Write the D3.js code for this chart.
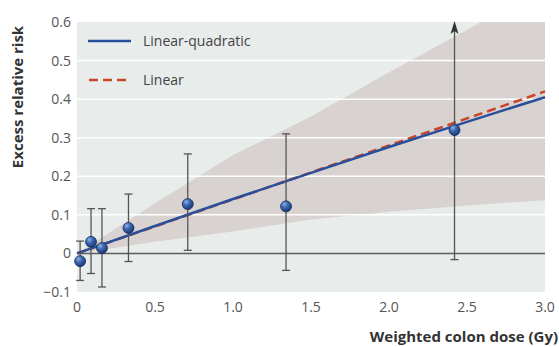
<!DOCTYPE html>
<html>
<head>
<meta charset="utf-8">
<script src="https://cdnjs.cloudflare.com/ajax/libs/d3/7.8.5/d3.min.js"></script>
<style>
body { margin: 0; background: #fff; }
svg { display: block; font-family: "Open Sans", "Noto Sans", sans-serif; }
</style>
</head>
<body>
<svg id="chart" width="559" height="347"></svg>
<script>
// observed points: dose, ERR, lower CI, upper CI
var doses = [0.02, 0.09, 0.16, 0.33, 0.71, 1.34, 2.42];
var err = [-0.02, 0.03, 0.014, 0.066, 0.128, 0.122, 0.32];
var errLow = [-0.07, -0.052, -0.087, -0.021, 0.008, -0.044, -0.016];
var errHigh = [0.032, 0.116, 0.116, 0.154, 0.258, 0.31, 0.6];
var openTop = [false, false, false, false, false, false, true];

// fitted curves
var lqDose = [0, 0.5, 1, 1.5, 2, 2.5, 3];
var lqErr = [0, 0.071, 0.141, 0.209, 0.276, 0.341, 0.405];
var linDose = [0, 3];
var linErr = [0, 0.42];

// confidence band
var bandDose = [0, 0.5, 1, 1.5, 2, 2.5, 3];
var bandLow = [0, 0.03, 0.057, 0.088, 0.108, 0.124, 0.138];
var bandHigh = [0, 0.13, 0.255, 0.355, 0.47, 0.58, 0.69];

var xTicks = [0, 0.5, 1.0, 1.5, 2.0, 2.5, 3.0];
var yTicks = [-0.1, 0, 0.1, 0.2, 0.3, 0.4, 0.5, 0.6];

var svg = d3.select("#chart");
var x = d3.scaleLinear().domain([0, 3]).range([77, 545]);
var y = d3.scaleLinear().domain([-0.1, 0.6]).range([292, 22]);

svg.append("defs").append("clipPath").attr("id", "clip")
  .append("rect").attr("x", 77).attr("y", 22).attr("width", 468).attr("height", 270);
var grad = svg.select("defs").append("radialGradient").attr("id", "dot")
  .attr("cx", "35%").attr("cy", "30%").attr("r", "70%");
grad.append("stop").attr("offset", "0%").attr("stop-color", "#8fb0e0");
grad.append("stop").attr("offset", "45%").attr("stop-color", "#3a66b0");
grad.append("stop").attr("offset", "100%").attr("stop-color", "#1c3a78");

// background
svg.append("rect").attr("x", 77).attr("y", 22).attr("width", 468).attr("height", 270)
  .attr("fill", "#e8eceb");

// band
var band = bandDose.map(function(d, i) { return [d, bandLow[i], bandHigh[i]]; });
svg.append("path").datum(band)
  .attr("clip-path", "url(#clip)")
  .attr("fill", "#d8d3d1")
  .attr("d", d3.area().x(function(d) { return x(d[0]); })
    .y0(function(d) { return y(d[1]); }).y1(function(d) { return y(d[2]); }));

// gridlines
svg.selectAll(".grid").data(yTicks.filter(function(t) { return t > 0 && t < 0.6; }))
  .enter().append("line")
  .attr("x1", 77).attr("x2", 545)
  .attr("y1", function(d) { return y(d); }).attr("y2", function(d) { return y(d); })
  .attr("stroke", "#fff").attr("stroke-width", 1.5);

// zero line
svg.append("line").attr("x1", 77).attr("x2", 545).attr("y1", y(0)).attr("y2", y(0))
  .attr("stroke", "#5a5e60").attr("stroke-width", 1.5);

// axis labels
svg.selectAll(".yl").data(yTicks).enter().append("text")
  .attr("x", 71).attr("y", function(d) { return y(d) + 5; })
  .attr("text-anchor", "end").attr("font-size", 14).attr("fill", "#555")
  .text(function(d) { return d === 0 ? "0" : d3.format(".1f")(d); });
svg.selectAll(".xl").data(xTicks).enter().append("text")
  .attr("x", function(d) { return x(d); }).attr("y", 312)
  .attr("text-anchor", "middle").attr("font-size", 14).attr("fill", "#555")
  .text(function(d) { return d === 0 ? "0" : d3.format(".1f")(d); });

svg.append("text").attr("x", 558).attr("y", 342).attr("text-anchor", "end")
  .attr("font-size", 15).attr("font-weight", "bold").attr("fill", "#333")
  .text("Weighted colon dose (Gy)");
svg.append("text").attr("transform", "translate(23,97) rotate(-90)")
  .attr("text-anchor", "middle").attr("font-size", 15).attr("font-weight", "bold").attr("fill", "#333")
  .text("Excess relative risk");

// fitted lines
var line = d3.line().x(function(d) { return x(d[0]); }).y(function(d) { return y(d[1]); });
svg.append("path").datum(linDose.map(function(d, i) { return [d, linErr[i]]; }))
  .attr("d", line).attr("fill", "none").attr("stroke", "#c8452c")
  .attr("stroke-width", 2.5).attr("stroke-dasharray", "9,5");
svg.append("path").datum(lqDose.map(function(d, i) { return [d, lqErr[i]]; }))
  .attr("d", line).attr("fill", "none").attr("stroke", "#2a4f9a").attr("stroke-width", 2.5);

// error bars
var pts = doses.map(function(d, i) {
  return { d: d, v: err[i], lo: errLow[i], hi: errHigh[i], open: openTop[i] };
});
var eb = svg.selectAll(".eb").data(pts).enter().append("g");
eb.append("line")
  .attr("x1", function(p) { return x(p.d); }).attr("x2", function(p) { return x(p.d); })
  .attr("y1", function(p) { return y(p.lo); }).attr("y2", function(p) { return p.open ? y(p.hi) + 8 : y(p.hi); })
  .attr("stroke", "#555").attr("stroke-width", 1.3);
eb.append("line")
  .attr("x1", function(p) { return x(p.d) - 4; }).attr("x2", function(p) { return x(p.d) + 4; })
  .attr("y1", function(p) { return y(p.lo); }).attr("y2", function(p) { return y(p.lo); })
  .attr("stroke", "#555").attr("stroke-width", 1.3);
eb.filter(function(p) { return !p.open; }).append("line")
  .attr("x1", function(p) { return x(p.d) - 4; }).attr("x2", function(p) { return x(p.d) + 4; })
  .attr("y1", function(p) { return y(p.hi); }).attr("y2", function(p) { return y(p.hi); })
  .attr("stroke", "#555").attr("stroke-width", 1.3);
eb.filter(function(p) { return p.open; }).append("path")
  .attr("d", function(p) {
    var cx = x(p.d), cy = y(p.hi) - 1;
    return "M" + cx + "," + cy + "L" + (cx - 4) + "," + (cy + 13) + "L" + cx + "," + (cy + 10) + "L" + (cx + 4) + "," + (cy + 13) + "Z";
  })
  .attr("fill", "#333");

// points
svg.selectAll(".pt").data(pts).enter().append("circle")
  .attr("cx", function(p) { return x(p.d); }).attr("cy", function(p) { return y(p.v); })
  .attr("r", 5.5).attr("fill", "url(#dot)").attr("stroke", "#1a2f5c").attr("stroke-width", 0.8);

// legend
svg.append("line").attr("x1", 88).attr("x2", 131).attr("y1", 41).attr("y2", 41)
  .attr("stroke", "#2a4f9a").attr("stroke-width", 2.5);
svg.append("text").attr("x", 143).attr("y", 46).attr("font-size", 14).attr("fill", "#444")
  .text("Linear-quadratic");
svg.append("line").attr("x1", 89).attr("x2", 131).attr("y1", 80).attr("y2", 80)
  .attr("stroke", "#c8452c").attr("stroke-width", 2.5).attr("stroke-dasharray", "9,5");
svg.append("text").attr("x", 143).attr("y", 85).attr("font-size", 14).attr("fill", "#444")
  .text("Linear");
</script>
</body>
</html>
